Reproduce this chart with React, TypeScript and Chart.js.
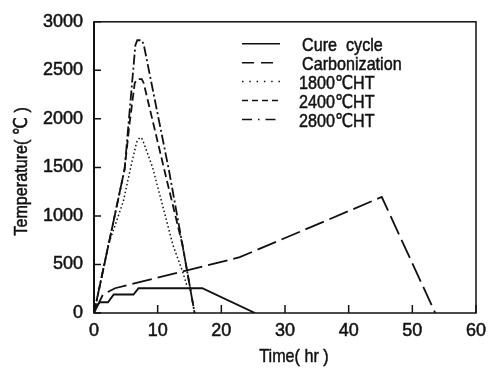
import React, { useEffect, useRef } from "react";
import { Chart, registerables } from "chart.js";

Chart.register(...registerables);

// Time (hr) / temperature (°C) profiles for each process step
const cureTime = [0, 0.9, 2.2, 3.1, 6.2, 7.0, 17.0, 25.3];
const cureTemp = [40, 110, 110, 190, 190, 255, 255, 0];

const carbTime = [0, 1.4, 3.3, 22.9, 45.2, 53.6];
const carbTemp = [0, 190, 255, 575, 1195, 0];

const ht1800Time = [0, 2.2, 4.6, 5.9, 6.7, 7.2, 7.6, 9.2, 12.4, 13.9, 14.6];
const ht1800Temp = [0, 690, 1150, 1540, 1760, 1810, 1790, 1500, 700, 430, 280];

const ht2400Time = [0, 4.8, 5.6, 6.4, 6.8, 7.5, 7.8, 11.1, 13.9, 15.8];
const ht2400Temp = [0, 1480, 1960, 2370, 2410, 2410, 2370, 1460, 700, 0];

const ht2800Time = [0, 4.8, 6.5, 6.8, 7.5, 7.8, 11.8, 13.9, 15.8];
const ht2800Temp = [0, 1480, 2760, 2810, 2810, 2770, 1460, 700, 0];

const seriesLabels = ["Cure  cycle", "Carbonization", "1800℃HT", "2400℃HT", "2800℃HT"];
const xTitle = "Time( hr )";
const yTitle = "Temperature( ℃ )";

const xMax = 60;
const xStep = 10;
const yMax = 3000;
const yStep = 500;

const SANS = '"Liberation Sans", "DejaVu Sans", sans-serif';
const INK = "#111";
// horizontal squeeze giving the condensed lettering of labels
const SQUEEZE = 0.85;

const toPoints = (xs: number[], ys: number[]) => xs.map((x, i) => ({ x, y: ys[i] }));

// dash patterns used for the small legend samples
const legendDashes: number[][] = [[], [12, 7], [1.5, 5.8], [6, 4], [10, 6, 1.5, 6]];

function narrowText(
  ctx: CanvasRenderingContext2D,
  text: string,
  x: number,
  y: number,
  align: CanvasTextAlign,
  rotation = 0
) {
  ctx.save();
  ctx.translate(x, y);
  ctx.rotate(rotation);
  ctx.scale(SQUEEZE, 1);
  ctx.textAlign = align;
  ctx.textBaseline = "middle";
  ctx.lineWidth = 0.5;
  ctx.strokeStyle = INK;
  ctx.setLineDash([]);
  ctx.strokeText(text, 0, 0);
  ctx.fillText(text, 0, 0);
  ctx.restore();
}

const frameAndTicks = {
  id: "frameAndTicks",
  afterDatasetsDraw(chart: any) {
    const { ctx, chartArea: a, scales } = chart;
    ctx.save();
    ctx.strokeStyle = INK;
    ctx.setLineDash([]);
    // plot frame
    ctx.lineWidth = 1.5;
    ctx.strokeRect(a.left, a.top, a.right - a.left, a.bottom - a.top);
    ctx.lineWidth = 2;
    ctx.beginPath();
    ctx.moveTo(a.left, a.top);
    ctx.lineTo(a.left, a.bottom);
    ctx.stroke();
    // inward tick marks
    ctx.lineWidth = 1.5;
    ctx.beginPath();
    for (const t of scales.y.ticks) {
      const py = scales.y.getPixelForValue(t.value);
      ctx.moveTo(a.left, py);
      ctx.lineTo(a.left + 7, py);
    }
    for (const t of scales.x.ticks) {
      const px = scales.x.getPixelForValue(t.value);
      ctx.moveTo(px, a.bottom);
      ctx.lineTo(px, a.bottom - 8);
    }
    ctx.stroke();
    ctx.restore();
  },
};

const axisTitles = {
  id: "axisTitles",
  afterDraw(chart: any) {
    const { ctx, chartArea: a } = chart;
    ctx.save();
    ctx.fillStyle = INK;
    ctx.font = `19px ${SANS}`;
    narrowText(ctx, xTitle, (a.left + a.right) / 2 + 9, a.bottom + 44, "center");
    narrowText(ctx, yTitle, 22, (a.top + a.bottom) / 2 + 4, "center", -Math.PI / 2);
    ctx.restore();
  },
};

const insideLegend = {
  id: "insideLegend",
  afterDraw(chart: any) {
    const { ctx, chartArea: a } = chart;
    const sampleLeft = a.right - 234;
    const sampleRight = a.right - 196;
    const textLeft = a.right - 174;
    ctx.save();
    ctx.font = `19px ${SANS}`;
    ctx.fillStyle = INK;
    chart.data.datasets.forEach((ds: any, i: number) => {
      const rowY = a.top + 22 + i * 18.9;
      ctx.strokeStyle = INK;
      ctx.lineWidth = 1.5;
      ctx.setLineDash(legendDashes[i]);
      ctx.beginPath();
      ctx.moveTo(sampleLeft, rowY);
      ctx.lineTo(sampleRight, rowY);
      ctx.stroke();
      narrowText(ctx, ds.label, i < 2 ? textLeft : textLeft - 3, rowY + 2, "left");
    });
    ctx.restore();
  },
};

export default function App() {
  const canvasRef = useRef<HTMLCanvasElement | null>(null);

  useEffect(() => {
    const canvas = canvasRef.current;
    if (!canvas) return;
    const common = {
      borderColor: INK,
      backgroundColor: INK,
      pointRadius: 0,
      tension: 0,
      fill: false,
      borderWidth: 1.8,
    };
    const tickFont = { family: SANS, size: 18 };
    const chart = new Chart(canvas, {
      type: "line",
      data: {
        datasets: [
          { ...common, label: seriesLabels[0], data: toPoints(cureTime, cureTemp), borderWidth: 1.9 },
          { ...common, label: seriesLabels[1], data: toPoints(carbTime, carbTemp), borderDash: [20, 6] },
          { ...common, label: seriesLabels[2], data: toPoints(ht1800Time, ht1800Temp), borderDash: [1.5, 2.5], borderWidth: 1.5 },
          { ...common, label: seriesLabels[3], data: toPoints(ht2400Time, ht2400Temp), borderDash: [8, 4] },
          { ...common, label: seriesLabels[4], data: toPoints(ht2800Time, ht2800Temp), borderDash: [10, 3, 2, 3] },
        ],
      },
      options: {
        responsive: false,
        animation: false,
        devicePixelRatio: 1,
        layout: { padding: { left: 0, top: 13, right: 20, bottom: 0 } },
        plugins: { legend: { display: false }, tooltip: { enabled: false } },
        scales: {
          x: {
            type: "linear",
            min: 0,
            max: xMax,
            grid: { display: false, drawTicks: false },
            border: { display: false },
            ticks: {
              stepSize: xStep,
              autoSkip: false,
              maxRotation: 0,
              padding: 7,
              color: INK,
              textStrokeColor: INK,
              textStrokeWidth: 0.5,
              font: tickFont,
              callback: (v: any) => String(v),
            },
            afterFit(scale: any) {
              scale.height = 58;
            },
          },
          y: {
            min: 0,
            max: yMax,
            grid: { display: false, drawTicks: false },
            border: { display: false },
            ticks: {
              stepSize: yStep,
              padding: 11,
              color: INK,
              textStrokeColor: INK,
              textStrokeWidth: 0.5,
              font: tickFont,
              callback: (v: any) => String(v),
            },
            afterFit(scale: any) {
              scale.width = 94;
            },
          },
        },
      },
      plugins: [frameAndTicks, axisTitles, insideLegend],
    });
    return () => chart.destroy();
  }, []);

  return (
    <div style={{ position: "absolute", left: 0, top: 0, width: 496, height: 371, background: "#fff" }}>
      <canvas ref={canvasRef} width={496} height={371} />
    </div>
  );
}
